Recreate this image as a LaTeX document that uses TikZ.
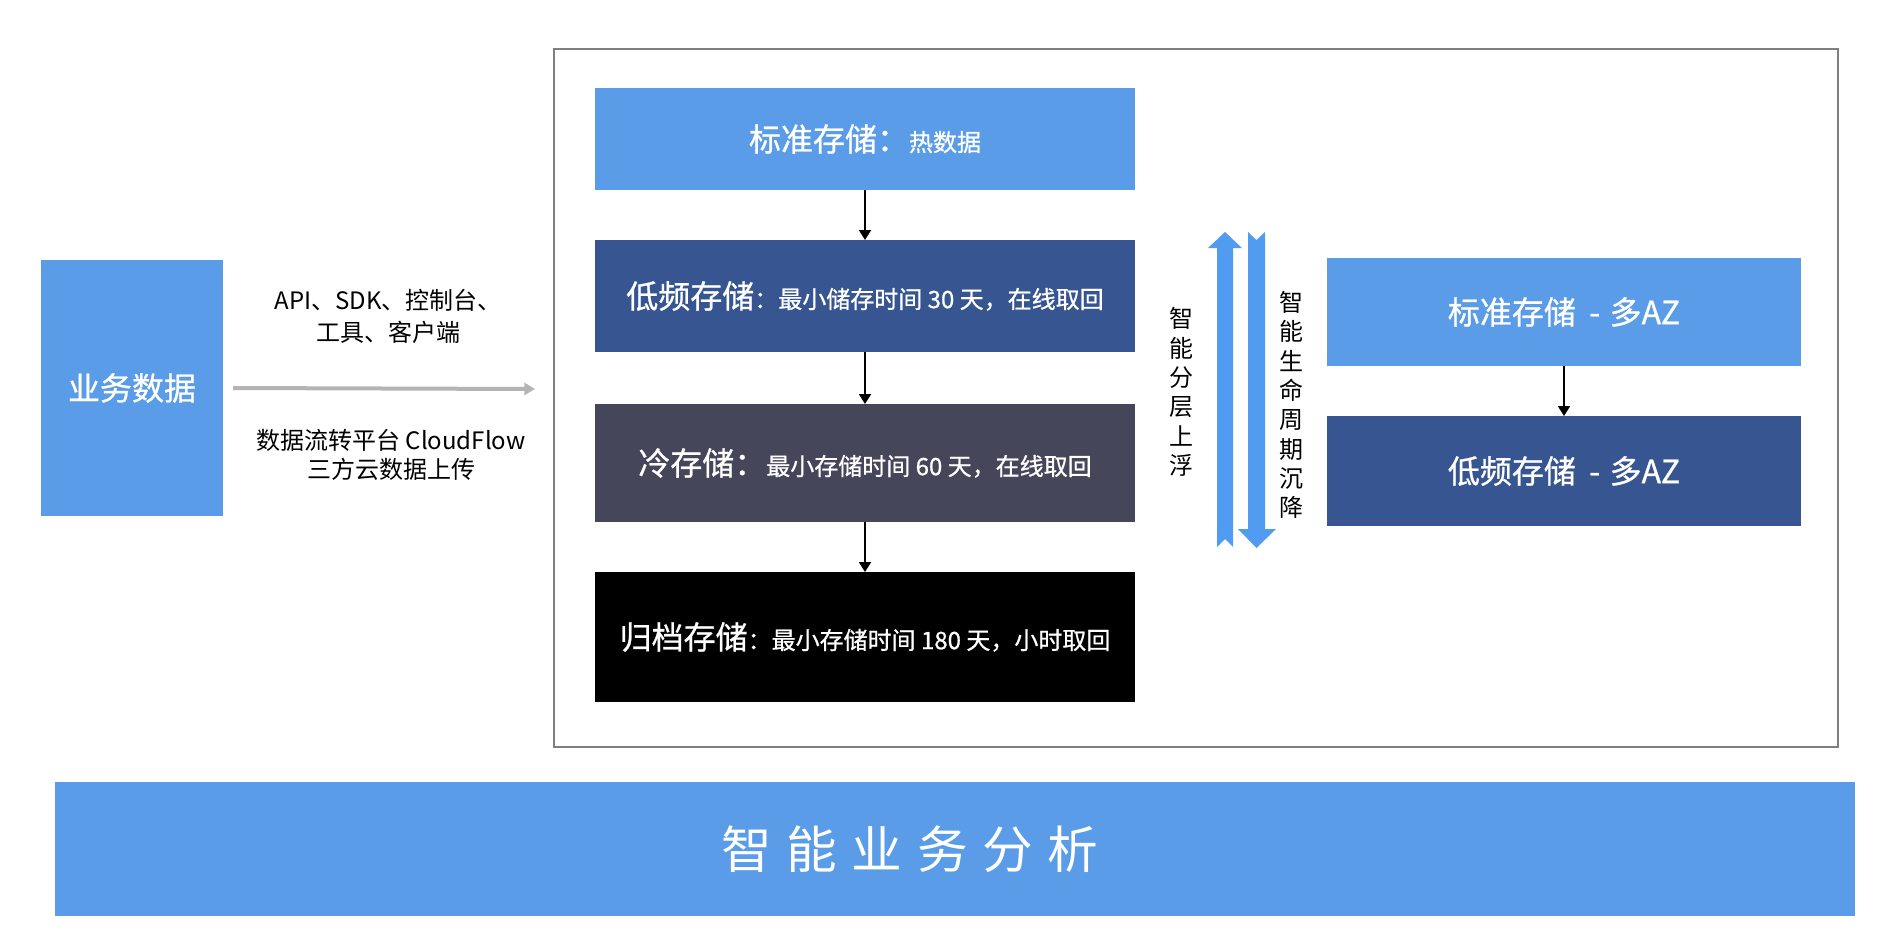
\documentclass[tikz,border=0pt]{standalone}
\usepackage{fontspec}
\setmainfont{Noto Sans CJK SC}
\newfontfamily\medf{Noto Sans CJK SC}[FakeBold=0.8]
\usetikzlibrary{arrows.meta}
\definecolor{lb}{HTML}{5A9CE7}
\definecolor{db}{HTML}{375590}
\definecolor{sl}{HTML}{46465A}
\definecolor{ab}{HTML}{519CF0}
\definecolor{fr}{HTML}{7F7F7F}
\definecolor{ga}{HTML}{B4B4B4}
\newcommand{\fbig}{\medf\fontsize{24pt}{28pt}\selectfont}
\newcommand{\fsm}{\fontsize{18pt}{22pt}\selectfont}
\newcommand{\fhuge}{\fontsize{38pt}{44pt}\selectfont}
\tikzset{
  box/.style={inner sep=0pt, outer sep=0pt, draw=none, text=white, font=\fbig},
  tier/.style={box, minimum width=540*0.75pt},
  az/.style={box, minimum width=474*0.75pt},
  blackarrow/.style={line width=1.5pt, -{Triangle[length=7.5pt,width=9pt]}},
  grayarrow/.style={line width=3pt, draw=ga, -{Triangle[length=8pt,width=9pt]}},
  vtext/.style={font=\fsm, align=center, text=black, inner sep=0pt},
  ltext/.style={font=\fsm, align=center, text=black, inner sep=0pt}
}
\begin{document}
\begin{tikzpicture}[x=0.75pt, y=-0.75pt]
\fill[white] (0,0) rectangle (1886,936);
\useasboundingbox (0,0) rectangle (1886,936);

% left source box
\node[box, fill=lb, minimum width=182*0.75pt, minimum height=256*0.75pt] (biz) at (132,388) {业务数据};

% labels of the ingest arrow
\node[ltext, font={\fontsize{18pt}{24pt}\selectfont}] (api) at (388,316) {API、SDK、控制台、\\工具、客户端};
\node[ltext, font={\fontsize{18pt}{22pt}\selectfont}] (cf) at (391,455) {数据流转平台 CloudFlow\\三方云数据上传};
\coordinate (gend) at (535,389);
\draw[grayarrow] ([xshift=7.5pt]biz.east) -- (gend);

% frame
\node[draw=fr, line width=1.5pt, inner sep=0pt, outer sep=0pt, minimum width=1284*0.75pt, minimum height=698*0.75pt] (frame) at (1196,398) {};

% storage tiers
\node[tier, fill=lb, minimum height=102*0.75pt] (s1) at (865,139) {标准存储：{\fsm 热数据}};
\node[tier, fill=db, minimum height=112*0.75pt] (s2) at (865,296) {低频存储{\fsm ：最小储存时间 30 天，在线取回}};
\node[tier, fill=sl, minimum height=118*0.75pt] (s3) at (865,463) {冷存储：{\fsm 最小存储时间 60 天，在线取回}};
\node[tier, fill=black, minimum height=130*0.75pt] (s4) at (865,637) {归档存储{\fsm ：最小存储时间 180 天，小时取回}};

\draw[blackarrow] (s1.south) -- (s2.north);
\draw[blackarrow] (s2.south) -- (s3.north);
\draw[blackarrow] (s3.south) -- (s4.north);

% tiering arrows
\fill[ab] (1217,547) -- (1217,248) -- (1208,248) -- (1225,232) -- (1242,248) -- (1233,248) -- (1233,547) -- (1225,539) -- cycle;
\fill[ab] (1248,232) -- (1256.5,240) -- (1265,232) -- (1265,529) -- (1276,529) -- (1256.5,548) -- (1238,529) -- (1248,529) -- cycle;
\node[vtext] (up) at (1181,392) {智\\能\\分\\层\\上\\浮};
\node[vtext] (down) at (1291,405) {智\\能\\生\\命\\周\\期\\沉\\降};

% multi-AZ
\node[az, fill=lb, minimum height=108*0.75pt] (r1) at (1564,312) {标准存储\hspace{10pt}-\hspace{7pt}多AZ};
\node[az, fill=db, minimum height=110*0.75pt] (r2) at (1564,471) {低频存储\hspace{10pt}-\hspace{7pt}多AZ};
\draw[blackarrow] (r1.south) -- (r2.north);

% bottom bar
\node[box, fill=lb, minimum width=1800*0.75pt, minimum height=134*0.75pt] (bar) at (955,849) {};
\node[text=white, font=\fhuge, inner sep=0pt] (bartext) at (910,849) {智\hspace{11pt}能\hspace{11pt}业\hspace{11pt}务\hspace{11pt}分\hspace{11pt}析};
\end{tikzpicture}
\end{document}
